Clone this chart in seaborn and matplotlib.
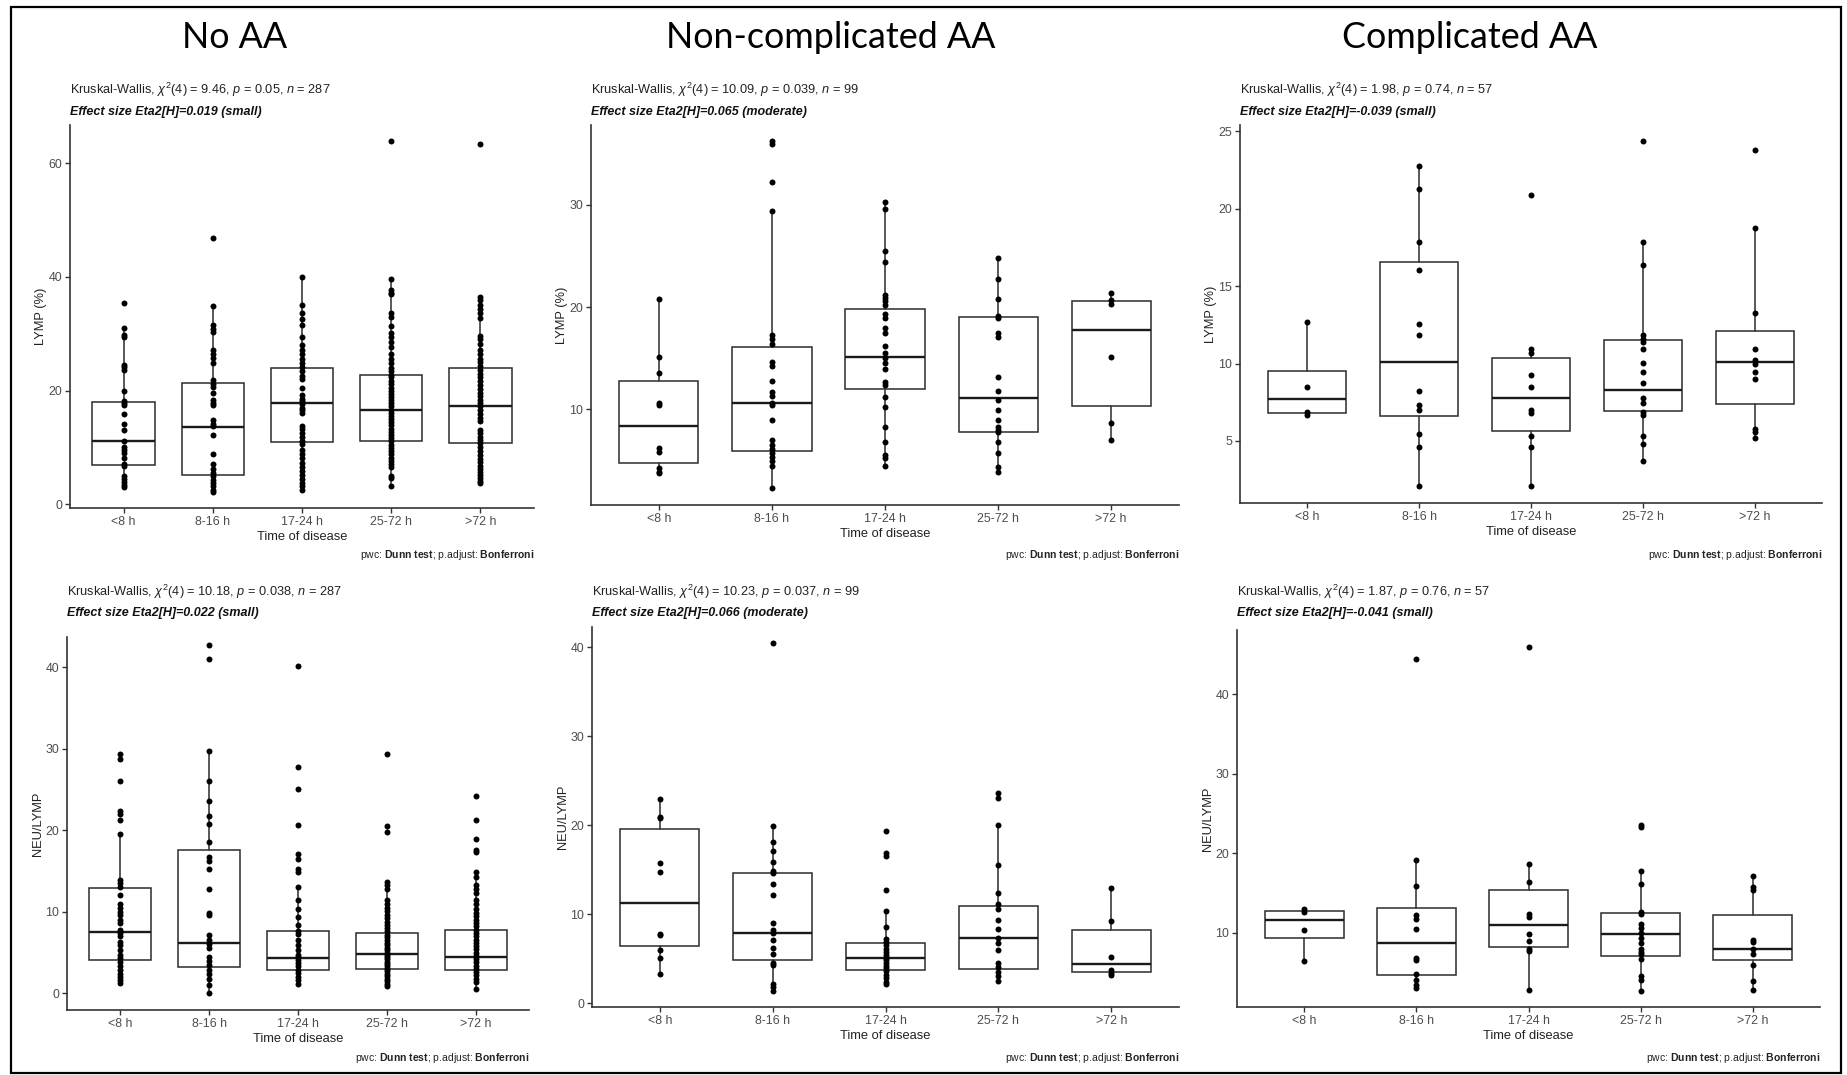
import numpy as np
import pandas as pd
import matplotlib
matplotlib.use("Agg")
import matplotlib.pyplot as plt
from matplotlib.patches import Rectangle
import seaborn as sns

# ---------------- data ----------------
categories = ["<8 h", "8-16 h", "17-24 h", "25-72 h", ">72 h"]
column_titles = ["No AA", "Non-complicated AA", "Complicated AA"]

# LYMP (%) - No AA
lymp_noaa_lt8 = [35.4, 31.0, 29.7, 29.4, 24.5, 24.1, 23.7, 20.0, 18.2, 17.8, 17.5, 15.8, 14.1, 13.1,
                 11.1, 10.1, 9.6, 9.0, 8.1, 7.1, 6.7, 4.9, 4.4, 4.0, 3.4, 3.1]
lymp_noaa_8_16 = [46.9, 34.8, 31.6, 30.9, 30.3, 27.2, 26.5, 25.8, 24.8, 21.9, 21.2, 20.6, 19.6, 18.4,
                  17.9, 17.4, 14.8, 14.2, 13.7, 12.1, 8.8, 7.0, 6.2, 5.5, 4.9, 4.3, 3.8, 3.2, 2.6, 2.2]
lymp_noaa_17_24 = [39.9, 35.1, 33.6, 32.6, 31.6, 29.4, 28.0, 27.2, 26.5, 25.6, 24.9, 24.2, 23.4, 22.6,
                   22.0, 20.4, 19.2, 18.6, 18.2, 17.6, 17.0, 16.5, 16.0, 13.7, 13.2, 12.6, 11.8, 11.2,
                   10.6, 9.6, 8.8, 8.1, 7.2, 6.5, 5.8, 5.1, 4.5, 3.8, 3.2, 2.5]
lymp_noaa_25_72 = [63.8, 39.6, 37.6, 37.2, 36.9, 33.6, 33.0, 31.3, 30.2, 29.4, 28.6, 27.6, 26.4, 25.6,
                   24.9, 24.0, 23.4, 22.8, 22.3, 21.7, 21.1, 20.5, 20.0, 19.4, 18.9, 18.3, 17.8, 17.2,
                   16.6, 16.1, 15.5, 15.0, 14.4, 13.9, 13.3, 12.7, 12.2, 11.6, 11.1, 10.5, 9.9, 9.3,
                   8.8, 8.2, 7.7, 7.0, 6.6, 5.0, 4.6, 3.3]
lymp_noaa_gt72 = [63.3, 36.4, 35.9, 35.1, 34.4, 33.6, 32.7, 29.6, 29.0, 28.2, 27.2, 26.5, 25.6, 25.0,
                  24.3, 23.6, 23.0, 22.3, 21.6, 21.0, 20.2, 19.6, 19.0, 18.4, 17.8, 17.2, 16.6, 15.9,
                  15.2, 14.6, 13.1, 12.6, 11.9, 11.3, 10.7, 10.0, 9.4, 8.7, 8.0, 7.4, 6.8, 6.2, 5.7,
                  5.2, 4.6, 4.1, 3.8]
lymp_noaa_q1 = [6.9, 5.2, 11.0, 11.1, 10.85]
lymp_noaa_med = [11.1, 13.6, 17.9, 16.5, 17.2]
lymp_noaa_q3 = [18.0, 21.4, 24.05, 22.8, 23.9]
lymp_noaa_lo = [3.1, 2.2, 2.5, 3.3, 3.8]
lymp_noaa_hi = [30.9, 34.8, 39.9, 39.6, 36.4]

# LYMP (%) - Non-complicated AA
lymp_ncaa_lt8 = [20.75, 15.1, 13.5, 10.6, 10.4, 6.2, 5.8, 4.3, 3.9, 3.8]
lymp_ncaa_8_16 = [36.2, 35.9, 32.2, 29.4, 17.3, 16.9, 16.4, 14.65, 14.2, 12.8, 11.65, 11.3, 10.6,
                  10.4, 9.0, 7.0, 6.5, 6.1, 5.7, 5.3, 4.9, 4.45, 2.3]
lymp_ncaa_17_24 = [30.3, 29.6, 25.5, 24.4, 21.2, 20.9, 20.6, 20.2, 19.3, 18.9, 17.9, 17.5, 16.2,
                   15.5, 15.0, 14.5, 13.9, 12.7, 12.4, 11.2, 10.25, 8.3, 6.8, 5.5, 5.2, 4.45]
lymp_ncaa_25_72 = [24.75, 22.7, 20.75, 19.1, 18.95, 17.5, 17.1, 13.2, 11.8, 10.9, 9.9, 9.0, 8.3,
                   8.0, 7.8, 6.8, 5.75, 4.4, 3.9]
lymp_ncaa_gt72 = [21.4, 20.7, 20.3, 15.1, 8.7, 7.0]
lymp_ncaa_q1 = [4.72, 5.95, 11.95, 7.8, 10.3]
lymp_ncaa_med = [8.4, 10.58, 15.15, 11.07, 17.75]
lymp_ncaa_q3 = [12.77, 16.1, 19.77, 19.05, 20.55]
lymp_ncaa_lo = [3.8, 2.3, 4.45, 3.9, 7.0]
lymp_ncaa_hi = [20.75, 29.4, 30.3, 24.75, 21.4]

# LYMP (%) - Complicated AA
lymp_caa_lt8 = [12.67, 8.51, 6.85, 6.68]
lymp_caa_8_16 = [22.78, 21.3, 17.85, 16.06, 12.56, 11.85, 8.25, 7.33, 7.0, 5.43, 4.59, 2.09]
lymp_caa_17_24 = [20.88, 10.93, 10.67, 9.27, 8.51, 7.0, 6.79, 5.34, 4.63, 2.09]
lymp_caa_25_72 = [24.4, 17.85, 16.38, 11.85, 11.6, 11.42, 10.93, 10.07, 9.44, 8.73, 7.76, 7.43,
                  6.9, 6.68, 5.32, 4.81, 3.73]
lymp_caa_gt72 = [23.8, 18.79, 13.25, 10.93, 10.24, 9.98, 9.44, 9.01, 5.75, 5.6, 5.22]
lymp_caa_q1 = [6.83, 6.62, 5.67, 6.94, 7.37]
lymp_caa_med = [7.72, 10.09, 7.8, 8.3, 10.09]
lymp_caa_q3 = [9.53, 16.55, 10.39, 11.53, 12.11]
lymp_caa_lo = [6.68, 2.09, 2.09, 3.73, 5.22]
lymp_caa_hi = [12.67, 22.78, 10.93, 17.85, 18.79]

# NEU/LYMP - No AA
nlr_noaa_lt8 = [29.4, 28.8, 26.1, 22.4, 22.0, 21.2, 19.5, 13.9, 13.5, 13.0, 12.1, 10.9, 10.5, 10.0,
                9.6, 9.0, 8.6, 7.8, 7.4, 7.0, 6.3, 5.9, 5.3, 4.7, 4.3, 3.9, 3.3, 2.9, 2.4, 2.0, 1.6, 1.3]
nlr_noaa_8_16 = [42.7, 41.0, 29.7, 26.1, 23.6, 21.7, 20.8, 18.6, 16.7, 16.2, 15.2, 12.8, 9.8, 9.6,
                 7.1, 6.5, 6.0, 5.6, 4.5, 4.0, 3.5, 2.9, 2.4, 1.8, 1.0, 0.0]
nlr_noaa_17_24 = [40.2, 27.8, 25.1, 20.6, 17.1, 16.5, 15.3, 14.9, 13.0, 11.4, 10.4, 9.4, 8.4, 7.6,
                  7.3, 6.5, 5.9, 5.3, 4.7, 4.4, 4.1, 3.7, 3.3, 2.9, 2.5, 2.0, 1.6, 1.2]
nlr_noaa_25_72 = [29.4, 20.5, 19.8, 13.7, 13.3, 12.8, 11.4, 10.9, 10.5, 10.1, 9.6, 9.2, 8.8, 8.4,
                  8.0, 7.6, 7.2, 6.9, 6.5, 6.2, 5.9, 5.6, 5.3, 5.0, 4.7, 4.5, 4.2, 3.9, 3.6, 3.3,
                  3.0, 2.7, 2.4, 2.1, 1.8, 1.5, 1.2, 0.9]
nlr_noaa_gt72 = [24.2, 21.2, 18.9, 17.6, 17.3, 14.9, 14.3, 13.3, 12.8, 12.3, 11.4, 10.9, 10.4, 9.9,
                 9.5, 9.0, 8.6, 8.2, 7.8, 7.4, 7.0, 6.6, 6.2, 5.8, 5.4, 5.0, 4.6, 4.2, 3.8, 3.4,
                 3.0, 2.6, 2.2, 1.8, 1.4, 0.5]
nlr_noaa_q1 = [4.09, 3.19, 2.86, 3.02, 2.86]
nlr_noaa_med = [7.48, 6.13, 4.37, 4.78, 4.45]
nlr_noaa_q3 = [12.88, 17.6, 7.63, 7.43, 7.76]
nlr_noaa_lo = [1.3, 0.0, 1.2, 0.9, 0.5]
nlr_noaa_hi = [19.5, 29.7, 13.0, 13.7, 14.3]

# NEU/LYMP - Non-complicated AA
nlr_ncaa_lt8 = [23.0, 20.9, 20.8, 15.7, 14.7, 7.8, 7.6, 6.0, 5.1, 3.3]
nlr_ncaa_8_16 = [40.45, 19.9, 18.1, 17.1, 15.9, 14.9, 14.6, 13.4, 12.2, 9.0, 8.2, 7.9, 7.1, 6.2,
                 5.55, 4.5, 4.3, 2.1, 1.8, 1.4]
nlr_ncaa_17_24 = [19.3, 16.9, 16.5, 12.75, 10.3, 8.5, 7.2, 6.9, 6.5, 6.1, 5.7, 5.4, 5.1, 4.8, 4.5,
                  4.2, 3.9, 3.6, 3.2, 2.8, 2.4, 2.1]
nlr_ncaa_25_72 = [23.6, 23.1, 20.0, 15.5, 12.4, 11.1, 10.6, 9.3, 8.3, 7.3, 6.8, 6.0, 4.5, 4.0, 3.5,
                  3.0, 2.5]
nlr_ncaa_gt72 = [12.95, 9.2, 5.2, 3.7, 3.4, 3.1]
nlr_ncaa_q1 = [6.38, 4.8, 3.68, 3.87, 3.49]
nlr_ncaa_med = [11.29, 7.88, 5.07, 7.35, 4.43]
nlr_ncaa_q3 = [19.62, 14.67, 6.79, 10.92, 8.26]
nlr_ncaa_lo = [3.3, 1.4, 2.1, 2.5, 3.1]
nlr_ncaa_hi = [23.0, 19.9, 10.3, 20.0, 12.95]

# NEU/LYMP - Complicated AA
nlr_caa_lt8 = [13.06, 12.64, 10.42, 6.43]
nlr_caa_8_16 = [44.4, 19.15, 15.9, 12.2, 11.7, 10.46, 6.9, 6.6, 4.9, 4.1, 3.4, 3.1]
nlr_caa_17_24 = [46.0, 18.64, 16.4, 12.43, 12.0, 9.92, 8.95, 8.0, 7.73, 2.87]
nlr_caa_25_72 = [23.55, 23.35, 17.76, 16.2, 12.6, 12.4, 11.1, 10.6, 10.0, 9.4, 8.7, 8.0, 7.6, 7.3,
                 6.7, 4.6, 4.1, 2.7]
nlr_caa_gt72 = [17.13, 15.8, 15.4, 9.16, 8.87, 8.03, 7.3, 6.0, 3.96, 2.87]
nlr_caa_q1 = [9.41, 4.74, 8.24, 7.06, 6.64]
nlr_caa_med = [11.59, 8.72, 11.05, 9.92, 8.03]
nlr_caa_q3 = [12.73, 13.08, 15.37, 12.56, 12.31]
nlr_caa_lo = [6.43, 3.1, 2.87, 2.7, 2.87]
nlr_caa_hi = [13.06, 19.15, 18.64, 17.76, 17.13]

titles = [
    r"Kruskal-Wallis, $\chi^{2}$(4) = 9.46, $\mathit{p}$ = 0.05, $\mathit{n}$ = 287",
    r"Kruskal-Wallis, $\chi^{2}$(4) = 10.09, $\mathit{p}$ = 0.039, $\mathit{n}$ = 99",
    r"Kruskal-Wallis, $\chi^{2}$(4) = 1.98, $\mathit{p}$ = 0.74, $\mathit{n}$ = 57",
    r"Kruskal-Wallis, $\chi^{2}$(4) = 10.18, $\mathit{p}$ = 0.038, $\mathit{n}$ = 287",
    r"Kruskal-Wallis, $\chi^{2}$(4) = 10.23, $\mathit{p}$ = 0.037, $\mathit{n}$ = 99",
    r"Kruskal-Wallis, $\chi^{2}$(4) = 1.87, $\mathit{p}$ = 0.76, $\mathit{n}$ = 57",
]
subtitles = [
    "Effect size Eta2[H]=0.019 (small)",
    "Effect size Eta2[H]=0.065 (moderate)",
    "Effect size Eta2[H]=-0.039 (small)",
    "Effect size Eta2[H]=0.022 (small)",
    "Effect size Eta2[H]=0.066 (moderate)",
    "Effect size Eta2[H]=-0.041 (small)",
]
caption = r"pwc: $\mathbf{Dunn\ test}$; p.adjust: $\mathbf{Bonferroni}$"
ylabels = ["LYMP (%)"] * 3 + ["NEU/LYMP"] * 3
xlabel = "Time of disease"

# ---------------- style ----------------
sns.set_theme(style="ticks")
plt.rcParams['font.family'] = ['Liberation Sans', 'DejaVu Sans']
plt.rcParams['mathtext.fontset'] = 'custom'
plt.rcParams['mathtext.rm'] = 'Liberation Sans'
plt.rcParams['mathtext.it'] = 'Liberation Sans:italic'
plt.rcParams['mathtext.bf'] = 'Liberation Sans:bold'
plt.rcParams['mathtext.sf'] = 'Liberation Sans'

W, H = 1847, 1075
fig = plt.figure(figsize=(W / 100, H / 100), dpi=100)
fig.patch.set_facecolor("white")

# layout (pixel boxes of the panels), y limits and ticks
rects = [(70, 125, 534, 508), (591, 125, 1179, 505), (1240, 125, 1822, 503),
         (67, 637, 529, 1010), (592, 627, 1179, 1007), (1237, 630, 1820, 1007)]
ylims = [(-0.65, 66.7), (0.64, 37.8), (0.99, 25.42),
         (-2.04, 43.7), (-0.45, 42.3), (0.69, 48.1)]
yticks = [[0, 20, 40, 60], [10, 20, 30], [5, 10, 15, 20, 25],
          [0, 10, 20, 30, 40], [0, 10, 20, 30, 40], [10, 20, 30, 40]]
title_y = [(90, 112)] * 3 + [(592, 613)] * 3
caption_y = [555] * 3 + [1058] * 3

panel_groups = [
    [lymp_noaa_lt8, lymp_noaa_8_16, lymp_noaa_17_24, lymp_noaa_25_72, lymp_noaa_gt72],
    [lymp_ncaa_lt8, lymp_ncaa_8_16, lymp_ncaa_17_24, lymp_ncaa_25_72, lymp_ncaa_gt72],
    [lymp_caa_lt8, lymp_caa_8_16, lymp_caa_17_24, lymp_caa_25_72, lymp_caa_gt72],
    [nlr_noaa_lt8, nlr_noaa_8_16, nlr_noaa_17_24, nlr_noaa_25_72, nlr_noaa_gt72],
    [nlr_ncaa_lt8, nlr_ncaa_8_16, nlr_ncaa_17_24, nlr_ncaa_25_72, nlr_ncaa_gt72],
    [nlr_caa_lt8, nlr_caa_8_16, nlr_caa_17_24, nlr_caa_25_72, nlr_caa_gt72],
]
panel_stats = [
    (lymp_noaa_q1, lymp_noaa_med, lymp_noaa_q3, lymp_noaa_lo, lymp_noaa_hi),
    (lymp_ncaa_q1, lymp_ncaa_med, lymp_ncaa_q3, lymp_ncaa_lo, lymp_ncaa_hi),
    (lymp_caa_q1, lymp_caa_med, lymp_caa_q3, lymp_caa_lo, lymp_caa_hi),
    (nlr_noaa_q1, nlr_noaa_med, nlr_noaa_q3, nlr_noaa_lo, nlr_noaa_hi),
    (nlr_ncaa_q1, nlr_ncaa_med, nlr_ncaa_q3, nlr_ncaa_lo, nlr_ncaa_hi),
    (nlr_caa_q1, nlr_caa_med, nlr_caa_q3, nlr_caa_lo, nlr_caa_hi),
]

LINE = "#333333"
TICKC = "#4d4d4d"

for i in range(6):
    x0, y0, x1, y1 = rects[i]
    wpx, hpx = x1 - x0, y1 - y0
    ax = fig.add_axes([x0 / W, 1 - y1 / H, wpx / W, hpx / H])
    groups = panel_groups[i]
    df = pd.DataFrame({
        "time": np.repeat(categories, [len(g) for g in groups]),
        "value": np.concatenate([np.asarray(g, float) for g in groups]),
    })
    sns.stripplot(data=df, x="time", y="value", order=categories, jitter=False,
                  color="black", size=4.3, linewidth=0, ax=ax, zorder=3)
    q1, med, q3, lo, hi = panel_stats[i]
    stats = [dict(q1=a, med=m, q3=b, whislo=l, whishi=h, label=c)
             for a, m, b, l, h, c in zip(q1, med, q3, lo, hi, categories)]
    ax.bxp(stats, positions=range(len(categories)), widths=0.7, showfliers=False,
           showcaps=False, patch_artist=True, manage_ticks=False, zorder=2,
           boxprops=dict(facecolor="white", edgecolor=LINE, linewidth=1.15),
           whiskerprops=dict(color=LINE, linewidth=1.15),
           medianprops=dict(color="#1a1a1a", linewidth=1.7))
    ax.set_xlim(-0.6, len(categories) - 0.4)
    ax.set_ylim(*ylims[i])
    ax.set_yticks(yticks[i])
    ax.set_xticks(range(len(categories)))
    ax.set_xticklabels(categories)
    for s in ["top", "right"]:
        ax.spines[s].set_visible(False)
    for s in ["left", "bottom"]:
        ax.spines[s].set_color(LINE)
        ax.spines[s].set_linewidth(1.2)
    ax.tick_params(axis="both", length=3.5, width=1.0, color=LINE, labelcolor=TICKC,
                   labelsize=8.9, pad=2)
    ax.set_facecolor("white")
    ax.grid(False)
    ax.set_xlabel(xlabel, fontsize=9.3, color="#222222")
    ax.xaxis.label.set_va("center")
    ax.xaxis.set_label_coords(0.5, -29 / hpx)
    ax.set_ylabel(ylabels[i], fontsize=9.3, color="#222222")
    ax.yaxis.label.set_va("center")
    ax.yaxis.set_label_coords(-29 / wpx, 0.5)

    ty, sy = title_y[i]
    fig.text(x0 / W, 1 - ty / H, titles[i], ha="left", va="center", fontsize=9.2, color="#222222")
    fig.text(x0 / W, 1 - sy / H, subtitles[i], ha="left", va="center", fontsize=9.0,
             fontweight="bold", fontstyle="italic", color="#111111")
    fig.text(x1 / W, 1 - caption_y[i] / H, caption, ha="right", va="center", fontsize=7.5,
             color="#222222")

# column headers
for cx, t in zip([235, 831, 1470], column_titles):
    fig.text(cx / W, 1 - 48 / H, t, ha="center", va="baseline", fontsize=25.8,
             family=["Lato", "DejaVu Sans"], color="black")

# outer frame
fig.add_artist(Rectangle((11 / W, 1 - 1073 / H), (1841 - 11) / W, (1073 - 7) / H,
                         transform=fig.transFigure, fill=False, edgecolor="black", linewidth=1.6))

fig.savefig("out.png", dpi=100, facecolor="white")
